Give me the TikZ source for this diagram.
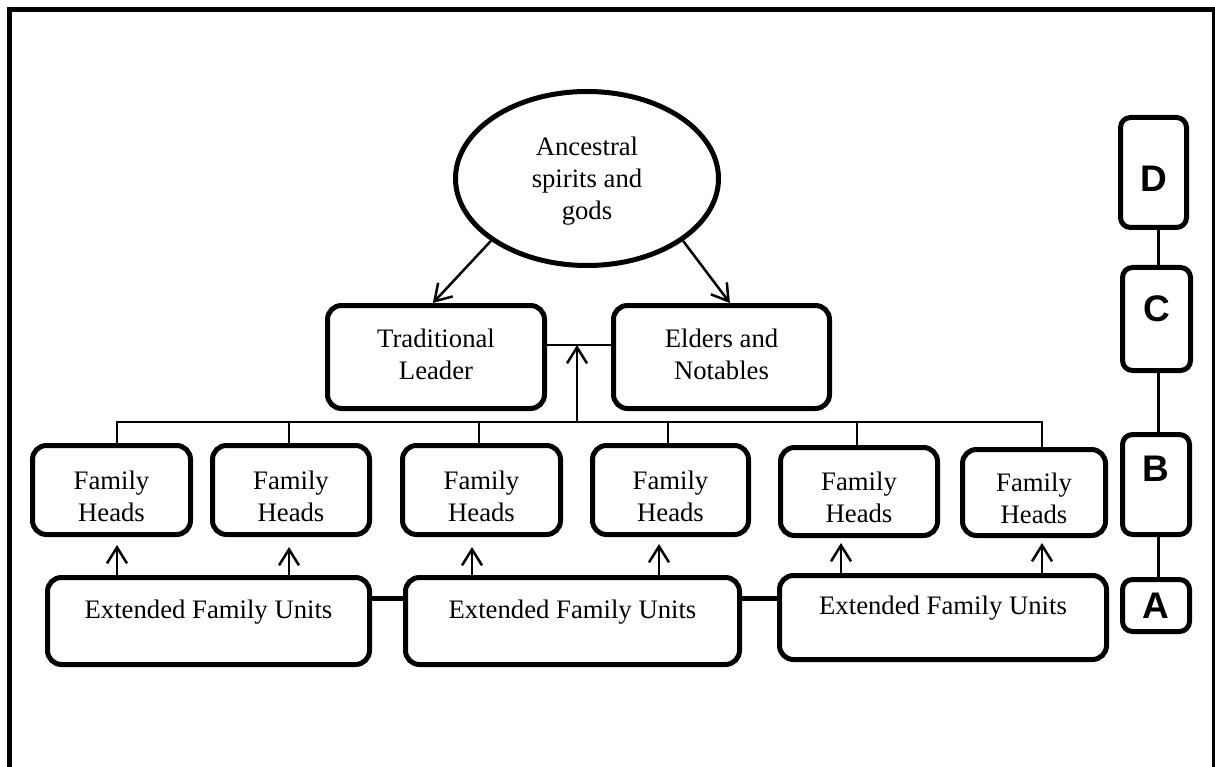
\documentclass[tikz,border=0pt]{standalone}
\usepackage{fontspec}
\setmainfont{Liberation Serif}
\setsansfont{Liberation Sans}
\usetikzlibrary{arrows.meta,calc,shapes.geometric}
\begin{document}
\begin{tikzpicture}[x=1pt,y=-1pt,
  txt/.style={font=\fontsize{26.7}{32}\selectfont,align=center,inner sep=0pt},
  box/.style={txt,draw,line width=5pt,rounded corners=14pt},
  fh/.style={box,minimum width=158pt,minimum height=89pt,text height=62pt,text depth=0pt},
  efu/.style={box,minimum height=87pt,text height=18pt,text depth=24pt},
  top/.style={box,minimum width=217pt,minimum height=103pt,text height=44pt,text depth=0pt},
  lvl/.style={draw,line width=5pt,rounded corners=10pt,inner sep=0pt,minimum width=67pt,
    font=\sffamily\bfseries\fontsize{37}{40}\selectfont},
  thinln/.style={line width=2.5pt},
  arr/.style={line width=2.5pt,-{Straight Barb[length=16pt,width=20pt]}},
  thick/.style={line width=5pt}]
\useasboundingbox (0,0) rectangle (1215,767);
% frame
\draw[line width=5pt] (9.5,790) -- (9.5,10) -- (1214,10) -- (1214,790);

% top ellipse
\node[txt,draw,ellipse,line width=5pt,minimum width=263pt,minimum height=174pt,
  text height=83pt,text depth=0pt] (ell) at (587,178.5) {Ancestral\\spirits and\\gods};

% second level
\node[top] (TL) at (436,357) {Traditional\\Leader};
\node[top,minimum width=216pt] (EN) at (721.5,357) {Elders and\\Notables};

% family heads
\node[fh] (FH1) at (111.5,490) {Family\\Heads};
\node[fh,minimum width=157pt] (FH2) at (291,490) {Family\\Heads};
\node[fh] (FH3) at (481.5,490) {Family\\Heads};
\node[fh,minimum width=156pt] (FH4) at (670.5,490) {Family\\Heads};
\node[fh,minimum width=157pt,minimum height=88pt] (FH5) at (859,491.5) {Family\\Heads};
\node[fh,minimum width=143pt,minimum height=86pt] (FH6) at (1034,492.5) {Family\\Heads};

% extended family units
\node[efu,minimum width=322pt] (EFU1) at (208.5,621) {Extended Family Units};
\node[efu,minimum width=334pt] (EFU2) at (572.5,621) {Extended Family Units};
\node[efu,minimum width=327pt,minimum height=84pt] (EFU3) at (943,617.5) {Extended Family Units};

% level column
\node[lvl,minimum width=66pt,minimum height=110pt,text height=37.5pt,text depth=0pt] (D) at (1153.5,172.5) {D};
\node[lvl,minimum width=68pt,minimum height=103pt,text height=26.5pt,text depth=22pt] (C) at (1156.5,319) {C};
\node[lvl,minimum height=100pt,text height=26.5pt,text depth=33pt] (B) at (1156,484.5) {B};
\node[lvl,minimum height=52pt,text height=26.5pt,text depth=1pt] (A) at (1156,605.5) {A};

\coordinate (rc) at (1158,0);
\draw[line width=3pt] (D.south -| rc) -- (C.north -| rc);
\draw[line width=3pt] (C.south -| rc) -- (B.north -| rc);
\draw[line width=3pt] (B.south -| rc) -- (A.north -| rc);

% arrows from ellipse
\draw[arr] (ell.213) -- ($(TL.north west)!0.486!(TL.north east)$);
\draw[arr] (ell.327) -- ($(EN.north west)!0.538!(EN.north east)$);

% link between TL and EN, riser
\coordinate (lk) at (0,345);
\draw[thinln] (TL.east |- lk) -- (EN.west |- lk);
\coordinate (bus) at (0,422);
\coordinate (rs) at (577,0);
\draw[arr] (rs |- bus) -- (rs |- lk);

% bus and drops
\coordinate (b1) at (117,422);
\coordinate (b2) at (289,422);
\coordinate (b3) at (479,422);
\coordinate (b4) at (668,422);
\coordinate (b5) at (857,422);
\coordinate (b6) at (1042,422);
\draw[thinln] ([xshift=-1.25pt]b1) -- ([xshift=1.25pt]b6);
\foreach \i in {1,...,6}{\draw[thinln] (b\i) -- (b\i |- FH\i.north);}

% arrows from EFU to FH
\coordinate (a1) at (117,0);
\coordinate (a2) at (289,0);
\coordinate (a3) at (472,0);
\coordinate (a4) at (659,0);
\coordinate (a5) at (841,0);
\coordinate (a6) at (1042,0);
\draw[arr] (a1 |- EFU1.north) -- ([yshift=-8pt]FH1.south -| a1);
\draw[arr] (a2 |- EFU1.north) -- ([yshift=-10pt]FH2.south -| a2);
\draw[arr] (a3 |- EFU2.north) -- ([yshift=-10pt]FH3.south -| a3);
\draw[arr] (a4 |- EFU2.north) -- ([yshift=-7pt]FH4.south -| a4);
\draw[arr] (a5 |- EFU3.north) -- ([yshift=-5pt]FH5.south -| a5);
\draw[arr] (a6 |- EFU3.north) -- ([yshift=-5pt]FH6.south -| a6);

% links between EFU
\coordinate (ek) at (0,598);
\draw[thick] (EFU1.east |- ek) -- (EFU2.west |- ek);
\draw[thick] (EFU2.east |- ek) -- (EFU3.west |- ek);
\end{tikzpicture}
\end{document}
